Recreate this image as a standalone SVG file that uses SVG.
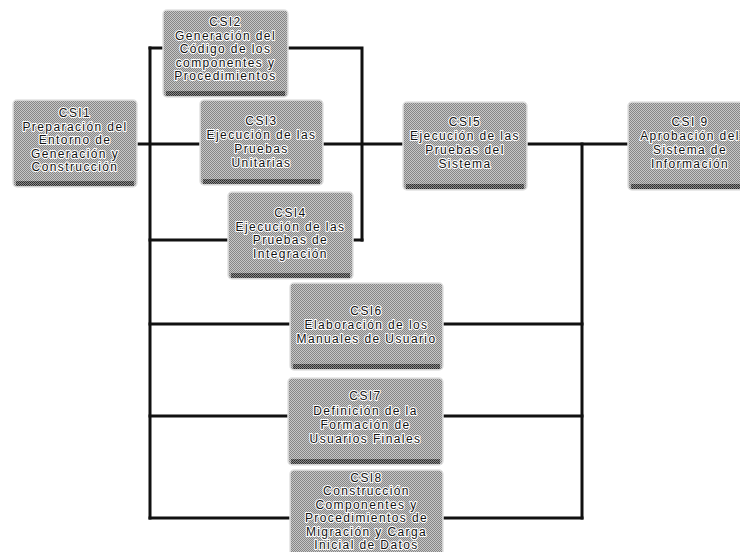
<svg xmlns="http://www.w3.org/2000/svg" width="740" height="552" viewBox="0 0 740 552">
<style>
.bg{fill:#ffffff}
.box{fill:url(#dither);stroke:#e2e2e2;stroke-width:1.5}
.shade{fill:url(#ditherDark)}
.wire{fill:none;stroke:#111111;stroke-width:3;stroke-linecap:square}
text{font-family:"Liberation Sans",Arial,sans-serif;font-size:12px;letter-spacing:1.4px;fill:#111111;stroke:#ffffff;stroke-width:2.2px;paint-order:stroke;stroke-linejoin:round;text-anchor:middle}
</style>
<defs>
<pattern id="dither" width="2" height="2" patternUnits="userSpaceOnUse">
<rect width="2" height="2" fill="#c6c6c6"/>
<rect width="1" height="1" fill="#868686"/>
<rect x="1" y="1" width="1" height="1" fill="#868686"/>
</pattern>
<pattern id="ditherDark" width="2" height="2" patternUnits="userSpaceOnUse">
<rect width="2" height="2" fill="#8a8a8a"/>
<rect width="1" height="1" fill="#2a2a2a"/>
<rect x="1" y="1" width="1" height="1" fill="#3a3a3a"/>
</pattern>
</defs>
<rect class="bg" width="740" height="552"/>

<g id="connectors">
<path class="wire" d="M150 48 V518"/>
<path class="wire" d="M150 48 H163"/>
<path class="wire" d="M288 48 H362 V240"/>
<path class="wire" d="M137 144 H200"/>
<path class="wire" d="M323 144 H403"/>
<path class="wire" d="M150 240 H228"/>
<path class="wire" d="M353 240 H362"/>
<path class="wire" d="M527 144 H628"/>
<path class="wire" d="M582 144 V518"/>
<path class="wire" d="M150 324 H290"/>
<path class="wire" d="M443 324 H582"/>
<path class="wire" d="M150 416 H288"/>
<path class="wire" d="M443 416 H582"/>
<path class="wire" d="M150 518 H290"/>
<path class="wire" d="M443 518 H582"/>
</g>

<g id="CSI1">
<rect class="box" x="13" y="100" width="124" height="87" rx="4"/>
<rect class="shade" x="16" y="181" width="118" height="5"/>
<text x="75" y="117">CSI1</text>
<text x="75" y="130.5">Preparación del</text>
<text x="75" y="144">Entorno de</text>
<text x="75" y="157.5">Generación y</text>
<text x="75" y="171">Construcción</text>
</g>

<g id="CSI2">
<rect class="box" x="163" y="10" width="125" height="87" rx="4"/>
<rect class="shade" x="166" y="91" width="119" height="5"/>
<text x="225.5" y="26">CSI2</text>
<text x="225.5" y="39.5">Generación del</text>
<text x="225.5" y="53">Código de los</text>
<text x="225.5" y="66.5">componentes y</text>
<text x="225.5" y="80">Procedimientos</text>
</g>

<g id="CSI3">
<rect class="box" x="200" y="100" width="123" height="85" rx="4"/>
<rect class="shade" x="203" y="179" width="117" height="5"/>
<text x="261.5" y="125">CSI3</text>
<text x="261.5" y="139">Ejecución de las</text>
<text x="261.5" y="153">Pruebas</text>
<text x="261.5" y="167">Unitarias</text>
</g>

<g id="CSI4">
<rect class="box" x="228" y="192" width="125" height="87" rx="4"/>
<rect class="shade" x="231" y="273" width="119" height="5"/>
<text x="290.5" y="217">CSI4</text>
<text x="290.5" y="230.5">Ejecución de las</text>
<text x="290.5" y="244">Pruebas de</text>
<text x="290.5" y="257.5">Integración</text>
</g>

<g id="CSI5">
<rect class="box" x="403" y="102" width="124" height="88" rx="4"/>
<rect class="shade" x="406" y="184" width="118" height="5"/>
<text x="465" y="126">CSI5</text>
<text x="465" y="140">Ejecución de las</text>
<text x="465" y="154">Pruebas del</text>
<text x="465" y="168">Sistema</text>
</g>

<g id="CSI9">
<rect class="box" x="628" y="102" width="124" height="88" rx="4"/>
<rect class="shade" x="631" y="184" width="118" height="5"/>
<text x="690" y="126">CSI 9</text>
<text x="690" y="140">Aprobación del</text>
<text x="690" y="154">Sistema de</text>
<text x="690" y="168">Información</text>
</g>

<g id="CSI6">
<rect class="box" x="290" y="283" width="153" height="87" rx="4"/>
<rect class="shade" x="293" y="364" width="147" height="5"/>
<text x="366.5" y="315">CSI6</text>
<text x="366.5" y="329">Elaboración de los</text>
<text x="366.5" y="343">Manuales de Usuario</text>
</g>

<g id="CSI7">
<rect class="box" x="288" y="378" width="155" height="87" rx="4"/>
<rect class="shade" x="291" y="459" width="149" height="5"/>
<text x="365.5" y="400">CSI7</text>
<text x="365.5" y="414.5">Definición de la</text>
<text x="365.5" y="428.5">Formación de</text>
<text x="365.5" y="442.5">Usuarios Finales</text>
</g>

<g id="CSI8">
<rect class="box" x="290" y="470" width="153" height="92" rx="4"/>
<text x="366.5" y="482">CSI8</text>
<text x="366.5" y="495.4">Construcción</text>
<text x="366.5" y="508.8">Componentes y</text>
<text x="366.5" y="522.2">Procedimientos de</text>
<text x="366.5" y="535.6">Migración y Carga</text>
<text x="366.5" y="549">Inicial de Datos</text>
</g>
</svg>
